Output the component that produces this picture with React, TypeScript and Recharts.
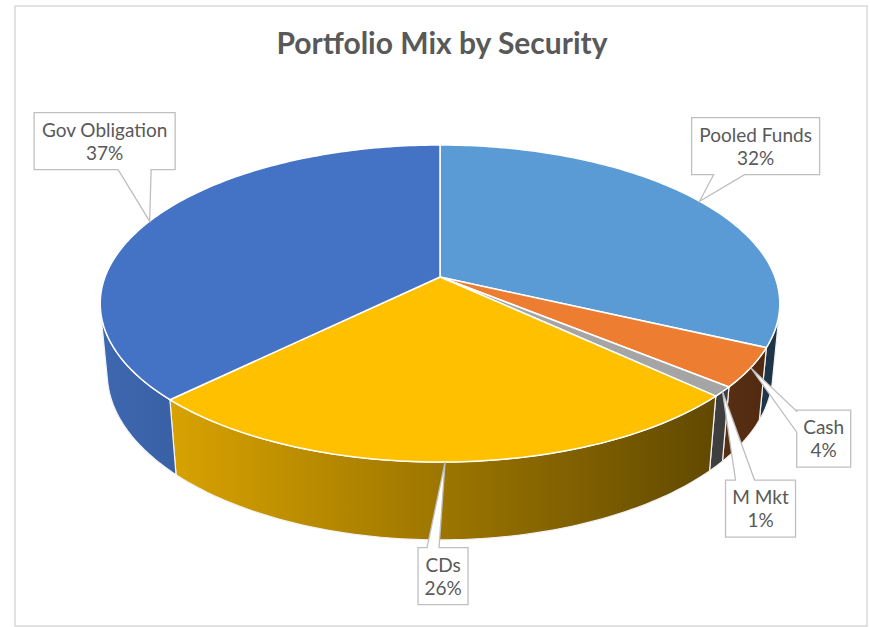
import React from 'react';
import { PieChart, Pie } from 'recharts';

const names = ['Pooled Funds', 'Cash', 'M Mkt', 'CDs', 'Gov Obligation'];
const values = [32, 4, 1, 25.6, 37.4];
const colors = ['#5B9BD5', '#ED7D31', '#A5A5A5', '#FFC000', '#4472C4'];

const data = names.map((name, i) => ({ name, value: values[i], fill: colors[i] }));

// callout layout (offset of box centre from the pointer tip, box width, pointer side / base offsets)
const calloutLayout = [
  { w: 128, dx: 56, dy: -55, side: 'bottom', b1: 22, b2: 53 },
  { w: 54, dx: 73, dy: 71, side: 'left', b1: 1, b2: 22 },
  { w: 70, dx: 38, dy: 117, side: 'top', b1: 10, b2: 29 },
  { w: 50, dx: -2, dy: 114, side: 'top', b1: 9, b2: 21 },
  { w: 141, dx: -45, dy: -80, side: 'bottom', b1: 84, b2: 117 },
];
const BOX_H = 57;

// perspective parameters
const DN = 5.31;
const SINP = 0.46;
const COSP = 0.888;
const DEPTH = 0.236;
const TAN_LIMIT = (Math.asin(-1 / (DN * COSP)) * 180) / Math.PI; // ~ -12.3

function proj(cx: number, cy: number, R: number, aDeg: number, bottom: boolean) {
  const a = (aDeg * Math.PI) / 180;
  const u = Math.cos(a);
  const w = Math.sin(a);
  const v = bottom ? -DEPTH : 0;
  const zc = DN + w * COSP - v * SINP;
  const yc = w * SINP + v * COSP;
  const S = R * DN;
  return [cx + (S * u) / zc, cy - (S * yc) / zc];
}

function arcPts(cx: number, cy: number, R: number, a1: number, a2: number, bottom: boolean) {
  const n = Math.max(2, Math.ceil(Math.abs(a2 - a1)));
  const pts: number[][] = [];
  for (let i = 0; i <= n; i++) {
    pts.push(proj(cx, cy, R, a1 + ((a2 - a1) * i) / n, bottom));
  }
  return pts;
}

function shade(hex: string, f: number) {
  const n = parseInt(hex.slice(1), 16);
  const r = Math.round(((n >> 16) & 255) * f);
  const g = Math.round(((n >> 8) & 255) * f);
  const b = Math.round((n & 255) * f);
  return `rgb(${r},${g},${b})`;
}

const TopShape = (props: any) => {
  const { cx, cy, outerRadius, startAngle, endAngle, index } = props;
  const pts = arcPts(cx, cy, outerRadius, startAngle, endAngle, false);
  const d = `M${cx},${cy} ` + pts.map((p) => `L${p[0].toFixed(2)},${p[1].toFixed(2)}`).join(' ') + ' Z';
  return <path d={d} fill={colors[index]} stroke="#ffffff" strokeWidth={1.5} strokeLinejoin="round" />;
};

const SideShape = (props: any) => {
  const { cx, cy, outerRadius, startAngle, endAngle, index } = props;
  const lo = Math.max(Math.min(startAngle, endAngle), -180 - TAN_LIMIT);
  const hi = Math.min(Math.max(startAngle, endAngle), TAN_LIMIT);
  if (lo >= hi) return <g />;
  const top = arcPts(cx, cy, outerRadius, lo, hi, false);
  const bot = arcPts(cx, cy, outerRadius, hi, lo, true);
  const all = [...top, ...bot];
  const d = 'M' + all.map((p) => `${p[0].toFixed(2)},${p[1].toFixed(2)}`).join(' L') + ' Z';
  const id = `sidegrad-${index}`;
  const x1 = cx - outerRadius;
  const x2 = cx + outerRadius;
  return (
    <g>
      <defs>
        <linearGradient id={id} gradientUnits="userSpaceOnUse" x1={x1} y1={0} x2={x2} y2={0}>
          <stop offset="0" stopColor={shade(colors[index], 0.9)} />
          <stop offset="1" stopColor={shade(colors[index], 0.33)} />
        </linearGradient>
      </defs>
      <path d={d} fill={`url(#${id})`} stroke="#f2f2f2" strokeWidth={1.2} strokeLinejoin="round" />
    </g>
  );
};

const FONT = "Lato, 'Open Sans', sans-serif";

const renderCallout = (props: any) => {
  const { cx, cy, outerRadius, midAngle, percent, index, name } = props;
  const L = calloutLayout[index];
  const [tx, ty] = proj(cx, cy, outerRadius, midAngle, false);
  const bx = tx + L.dx;
  const by = ty + L.dy;
  const x0 = bx - L.w / 2;
  const x1 = bx + L.w / 2;
  const y0 = by - BOX_H / 2;
  const y1 = by + BOX_H / 2;
  let d = '';
  if (L.side === 'bottom') {
    d = `M${x0},${y0} H${x1} V${y1} H${x0 + L.b2} L${tx},${ty} L${x0 + L.b1},${y1} H${x0} Z`;
  } else if (L.side === 'top') {
    d = `M${x0},${y0} H${x0 + L.b1} L${tx},${ty} L${x0 + L.b2},${y0} H${x1} V${y1} H${x0} Z`;
  } else {
    d = `M${x0},${y0} H${x1} V${y1} H${x0} V${y0 + L.b2} L${tx},${ty} L${x0},${y0 + L.b1} Z`;
  }
  return (
    <g key={`callout-${index}`}>
      <path d={d} fill="#ffffff" stroke="#BFBFBF" strokeWidth={1.3} />
      <text x={bx} y={y0 + 24} textAnchor="middle" fontFamily={FONT} fontSize={19} fill="#595959">
        {name}
      </text>
      <text x={bx} y={y0 + 47} textAnchor="middle" fontFamily={FONT} fontSize={19} fill="#595959">
        {`${Math.round(percent * 100)}%`}
      </text>
    </g>
  );
};

export default function App() {
  return (
    <div style={{ position: 'relative', width: 870, height: 627 }}>
      <style>{'body{margin:0;}'}</style>
      <svg width={870} height={627} style={{ position: 'absolute', left: 0, top: 0 }}>
        <rect x={15} y={6} width={852} height={620} fill="#ffffff" stroke="#D9D9D9" strokeWidth={1.5} />
        <text x={442} y={54} textAnchor="middle" fontFamily={FONT} fontWeight={700} fontSize={30} fill="#595959">
          Portfolio Mix by Security
        </text>
      </svg>
      <div style={{ position: 'absolute', left: 0, top: 0 }}>
        <PieChart width={870} height={627} margin={{ top: 0, right: 0, bottom: 0, left: 0 }}>
          <Pie
            data={data}
            dataKey="value"
            nameKey="name"
            cx={440}
            cy={277}
            outerRadius={335}
            startAngle={90}
            endAngle={-270}
            stroke="none"
            isAnimationActive={false}
            shape={SideShape}
            activeShape={SideShape}
            inactiveShape={SideShape}
            label={false}
            labelLine={false}
          />
          <Pie
            data={data}
            dataKey="value"
            nameKey="name"
            cx={440}
            cy={277}
            outerRadius={335}
            startAngle={90}
            endAngle={-270}
            stroke="none"
            isAnimationActive={false}
            shape={TopShape}
            activeShape={TopShape}
            inactiveShape={TopShape}
            label={renderCallout}
            labelLine={false}
          />
        </PieChart>
      </div>
    </div>
  );
}
